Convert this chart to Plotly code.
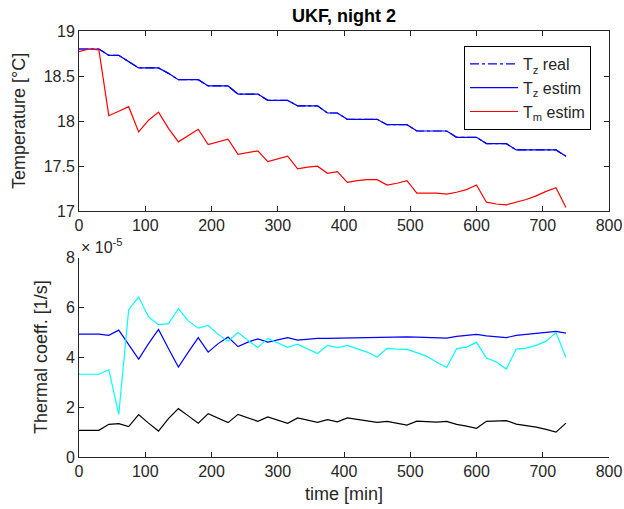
import plotly.graph_objects as go

time_min = [0, 15, 30, 45, 60, 75, 90, 105, 120, 135, 150, 165, 180, 195, 210, 225,
            240, 255, 270, 285, 300, 315, 330, 345, 360, 375, 390, 405, 420, 435, 450,
            465, 480, 495, 510, 525, 540, 555, 570, 585, 600, 615, 630, 645, 660, 675,
            690, 705, 720, 735]

tz_real = [18.80, 18.80, 18.80, 18.73, 18.73, 18.66, 18.59, 18.59, 18.59, 18.53,
           18.46, 18.46, 18.46, 18.39, 18.39, 18.39, 18.30, 18.30, 18.30, 18.23,
           18.23, 18.23, 18.17, 18.17, 18.17, 18.09, 18.09, 18.02, 18.02, 18.02,
           18.02, 17.96, 17.96, 17.96, 17.89, 17.89, 17.89, 17.89, 17.82, 17.82,
           17.82, 17.75, 17.75, 17.75, 17.68, 17.68, 17.68, 17.68, 17.68, 17.61]

tz_estim = [18.80, 18.80, 18.80, 18.73, 18.73, 18.66, 18.59, 18.59, 18.59, 18.53,
            18.46, 18.46, 18.46, 18.39, 18.39, 18.39, 18.30, 18.30, 18.30, 18.23,
            18.23, 18.23, 18.17, 18.17, 18.17, 18.09, 18.09, 18.02, 18.02, 18.02,
            18.02, 17.96, 17.96, 17.96, 17.89, 17.89, 17.89, 17.89, 17.82, 17.82,
            17.82, 17.75, 17.75, 17.75, 17.68, 17.68, 17.68, 17.68, 17.68, 17.61]

tm_estim = [18.77, 18.80, 18.79, 18.06, 18.11, 18.16, 17.88, 18.01, 18.10, 17.92,
            17.77, 17.84, 17.91, 17.74, 17.77, 17.80, 17.63, 17.65, 17.67, 17.55,
            17.58, 17.61, 17.47, 17.49, 17.50, 17.42, 17.44, 17.32, 17.34, 17.35,
            17.35, 17.29, 17.31, 17.34, 17.20, 17.20, 17.20, 17.19, 17.21, 17.24,
            17.29, 17.10, 17.08, 17.07, 17.10, 17.13, 17.17, 17.22, 17.26, 17.04]

# thermal coefficients, in units of 1e-5 1/s
coef_blue = [4.93, 4.93, 4.93, 4.88, 5.09, 4.51, 3.93, 4.55, 5.12, 4.35, 3.61, 4.21,
             4.79, 4.21, 4.55, 4.81, 4.43, 4.61, 4.74, 4.61, 4.71, 4.79, 4.69, 4.74,
             4.76, 4.76, 4.77, 4.75, 4.78, 4.80, 4.81, 4.82, 4.82, 4.82, 4.81, 4.80,
             4.79, 4.77, 4.84, 4.88, 4.92, 4.86, 4.82, 4.79, 4.88, 4.92, 4.96, 5.01,
             5.04, 4.97]
coef_cyan = [3.32, 3.32, 3.32, 3.50, 1.71, 5.91, 6.42, 5.62, 5.31, 5.35, 5.95, 5.46,
             5.17, 5.28, 4.92, 4.65, 4.99, 4.68, 4.39, 4.76, 4.57, 4.40, 4.53, 4.35,
             4.15, 4.48, 4.39, 4.48, 4.35, 4.21, 4.01, 4.36, 4.33, 4.32, 4.19, 4.04,
             3.80, 3.59, 4.35, 4.41, 4.60, 3.97, 3.81, 3.53, 4.33, 4.37, 4.48, 4.65,
             4.99, 3.99]
coef_black = [1.07, 1.07, 1.07, 1.31, 1.34, 1.22, 1.70, 1.36, 1.04, 1.54, 1.94, 1.65,
              1.36, 1.74, 1.55, 1.38, 1.71, 1.58, 1.43, 1.61, 1.47, 1.35, 1.57, 1.47,
              1.39, 1.50, 1.41, 1.57, 1.50, 1.43, 1.39, 1.43, 1.36, 1.28, 1.44, 1.41,
              1.40, 1.43, 1.31, 1.24, 1.15, 1.43, 1.43, 1.46, 1.32, 1.27, 1.20, 1.11,
              1.00, 1.36]
COEF_SCALE = 1e-5

x_ticks = [0, 100, 200, 300, 400, 500, 600, 700, 800]
top_y_ticks = [17, 17.5, 18, 18.5, 19]
top_y_text = ["17", "17.5", "18", "18.5", "19"]
bot_y_ticks = [0, 2, 4, 6, 8]

AX = "#262626"
FONT = "Liberation Sans, Arial, sans-serif"
LW = 1.2
ML, MR, MT, MB = 79, 15, 31, 52
W, H = 624, 509
plot_w = W - ML - MR
plot_h = H - MT - MB

fig = go.Figure()
fig.add_trace(go.Scatter(x=time_min, y=tz_real, mode="lines", name="T<sub>z</sub> real",
                         line=dict(color="#0000FF", width=LW, dash="dashdot"),
                         xaxis="x", yaxis="y"))
fig.add_trace(go.Scatter(x=time_min, y=tz_estim, mode="lines", name="T<sub>z</sub> estim",
                         line=dict(color="#0000FF", width=LW), xaxis="x", yaxis="y"))
fig.add_trace(go.Scatter(x=time_min, y=tm_estim, mode="lines", name="T<sub>m</sub> estim",
                         line=dict(color="#FF0000", width=LW), xaxis="x", yaxis="y"))

for vals, col in [(coef_blue, "#0000FF"), (coef_cyan, "#00FFFF"), (coef_black, "#000000")]:
    fig.add_trace(go.Scatter(x=time_min, y=[v * COEF_SCALE for v in vals], mode="lines",
                             showlegend=False, line=dict(color=col, width=LW),
                             xaxis="x2", yaxis="y2"))

axis_common = dict(showgrid=False, zeroline=False, showline=True, linecolor=AX, linewidth=1,
                   ticks="inside", ticklen=5, tickcolor=AX, tickwidth=1, automargin=False,
                   tickfont=dict(family=FONT, size=16, color=AX))

fig.update_layout(
    width=W, height=H,
    margin=dict(l=ML, r=MR, t=MT, b=MB, autoexpand=False),
    plot_bgcolor="white", paper_bgcolor="white",
    font=dict(family=FONT, size=16, color=AX),
    xaxis=dict(domain=[0, 1], range=[0, 800], tickvals=x_ticks, mirror="ticks",
               anchor="y", **axis_common),
    yaxis=dict(domain=[0.577, 1], range=[17, 19], tickvals=top_y_ticks, ticktext=top_y_text,
               mirror="ticks", anchor="x", **axis_common),
    xaxis2=dict(domain=[0, 1], range=[0, 800], tickvals=x_ticks, anchor="y2", **axis_common),
    yaxis2=dict(domain=[0, 0.468], range=[0, 8 * COEF_SCALE],
                tickvals=[v * COEF_SCALE for v in bot_y_ticks],
                ticktext=[str(v) for v in bot_y_ticks], anchor="x2", **axis_common),
    legend=dict(x=(464 - ML) / plot_w, y=(H - MB - 46) / plot_h, xanchor="left", yanchor="top",
                bgcolor="white", bordercolor="#000000", borderwidth=1, itemwidth=48,
                font=dict(family=FONT, size=16, color=AX), tracegroupgap=0),
    showlegend=True,
)

def px_x(x):
    return (x - ML) / plot_w

def px_y(y):
    return (H - MB - y) / plot_h

annotations = [
    dict(text="<b>UKF, night 2</b>", x=0.5, y=px_y(16), xref="paper", yref="paper",
         xanchor="center", yanchor="middle", showarrow=False,
         font=dict(family=FONT, size=18, color="#000000")),
    dict(text="Temperature [°C]", x=px_x(19), y=px_y(121), xref="paper", yref="paper",
         xanchor="center", yanchor="middle", textangle=-90, showarrow=False,
         font=dict(family=FONT, size=18, color=AX)),
    dict(text="Thermal coeff. [1/s]", x=px_x(41), y=px_y(357), xref="paper", yref="paper",
         xanchor="center", yanchor="middle", textangle=-90, showarrow=False,
         font=dict(family=FONT, size=18, color=AX)),
    dict(text="time [min]", x=0.5, y=px_y(494), xref="paper", yref="paper",
         xanchor="center", yanchor="middle", showarrow=False,
         font=dict(family=FONT, size=18, color=AX)),
    dict(text="× 10<sup>-5</sup>", x=0, y=0.468, xref="paper", yref="paper",
         xanchor="left", yanchor="bottom", showarrow=False,
         font=dict(family=FONT, size=16, color=AX)),
]
fig.update_layout(annotations=annotations)

fig.write_html("out.html", config={"displayModeBar": False},
               post_script="document.body.style.margin='0px';")
